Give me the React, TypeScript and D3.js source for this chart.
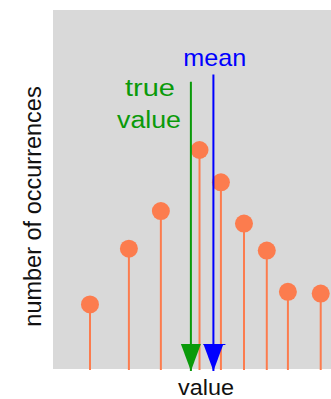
import React from "react";
import * as d3 from "d3";

const positions = [13.3, 27.3, 38.8, 52.7, 60.4, 68.7, 76.9, 84.5, 96.3];
const counts = [3.6, 6.7, 8.8, 12.2, 10.4, 8.1, 6.6, 4.3, 4.2];
const trueValue = 49.6;
const meanValue = 57.7;
const trueTop = 16.0;
const meanTop = 16.4;

const W = 331;
const H = 399;
const panel = { x0: 53, x1: 331, y0: 10, y1: 369 };

export default function App() {
  const x = d3.scaleLinear().domain([0, 100]).range([panel.x0, panel.x1]);
  const y = d3.scaleLinear().domain([0, 20]).range([panel.y1, panel.y0]);
  const coral = "#fc7c4e";
  const green = "#0a9a0a";
  const blue = "#0000ff";
  const tri = (cx: number, color: string) => {
    const top = 344;
    const apex = 371;
    const p = d3.path();
    p.moveTo(cx - 10, top);
    p.lineTo(cx + 10, top);
    p.lineTo(cx, apex);
    p.closePath();
    return <path d={p.toString()} fill={color} />;
  };
  const xt = x(trueValue);
  const xm = x(meanValue);
  return (
    <svg
      width={W}
      height={H}
      style={{ position: "absolute", left: 0, top: 0, display: "block" }}
      fontFamily="'Liberation Sans', Arial, sans-serif"
    >
      <rect x={0} y={0} width={W} height={H} fill="#ffffff" />
      <rect
        x={panel.x0}
        y={panel.y0}
        width={panel.x1 - panel.x0}
        height={panel.y1 - panel.y0}
        fill="#d9d9d9"
      />
      {positions.map((p, i) => (
        <line
          key={"s" + i}
          x1={x(p)}
          x2={x(p)}
          y1={y(counts[i])}
          y2={370}
          stroke={coral}
          strokeWidth={2}
        />
      ))}
      {positions.map((p, i) => (
        <circle key={"c" + i} cx={x(p)} cy={y(counts[i])} r={9} fill={coral} />
      ))}
      <line x1={xt} x2={xt} y1={y(trueTop)} y2={371} stroke={green} strokeWidth={2} />
      <line x1={xm} x2={xm} y1={y(meanTop)} y2={371} stroke={blue} strokeWidth={2} />
      {tri(xt, green)}
      {tri(xm, blue)}
      <line x1={xm - 10} x2={xm + 12} y1={344.5} y2={344.5} stroke={blue} strokeWidth={1} />
      <text x={214.7} y={66} textAnchor="middle" fill={blue} fontSize={24} textLength={63} lengthAdjust="spacingAndGlyphs">
        mean
      </text>
      <text x={175} y={96} textAnchor="end" fill={green} fontSize={24} textLength={50} lengthAdjust="spacingAndGlyphs">
        true
      </text>
      <text x={181} y={128} textAnchor="end" fill={green} fontSize={23} textLength={64} lengthAdjust="spacingAndGlyphs">
        value
      </text>
      <text x={206} y={395} textAnchor="middle" fill="#111" fontSize={22} textLength={56} lengthAdjust="spacingAndGlyphs">
        value
      </text>
      <text
        transform={`translate(41, 206.5) rotate(-90)`}
        textAnchor="middle"
        fill="#111"
        fontSize={23.5}
      >
        number of occurrences
      </text>
    </svg>
  );
}
